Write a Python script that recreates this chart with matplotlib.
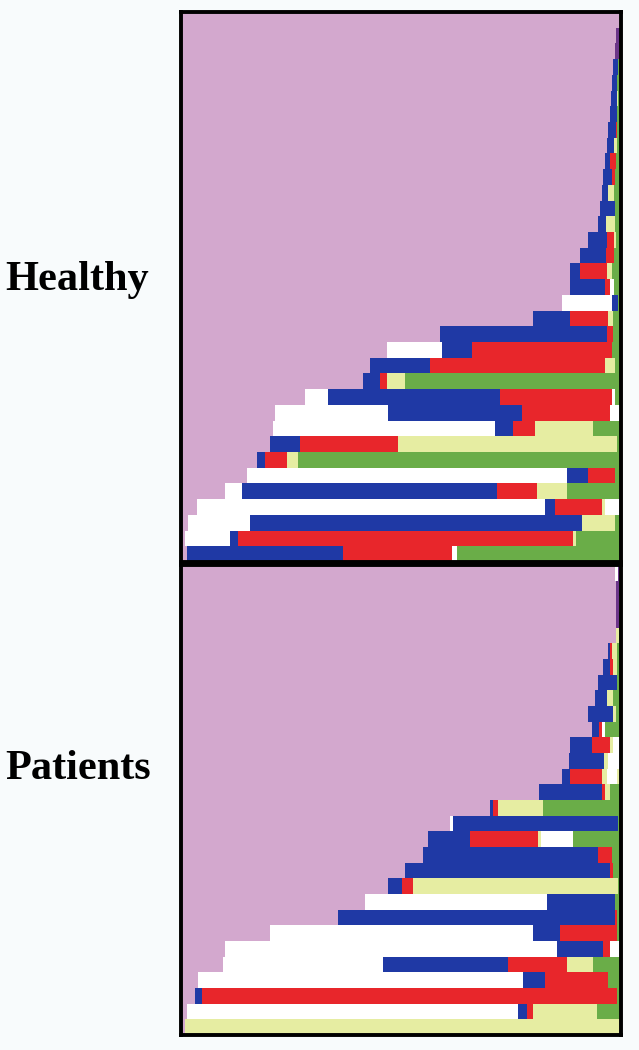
import matplotlib
matplotlib.use("Agg")
import matplotlib.pyplot as plt

# colour codes for the states in each row
colores = {
    "P": "#d3a8ce",  # pink
    "W": "#ffffff",  # white
    "B": "#1f39a5",  # blue
    "R": "#e8262b",  # red
    "Y": "#e6eda2",  # light yellow
    "G": "#6aad48",  # green
    "V": "#6b3588",  # purple
}

# Healthy: state sequence per row and where each state ends (0..440)
healthy_codes = [
    "PW", "PV", "PVG", "PBG", "PBG", "PBYG", "PBG", "PBRG", "PBYG", "PBRG",
    "PBRG", "PBYG", "PBG", "PBYG", "PBRYG", "PBRG", "PBRYG", "PBRWG", "PWBG",
    "PBRYG", "PBRG", "PWBRG", "PBRYG", "PBRYG", "PWBRWG", "PWBRW", "PWBRYG",
    "PBRYG", "PBRYG", "PWBRG", "PWBRYG", "PWBRYW", "PWBYG", "PWBRYG", "PBRWG",
]
healthy_ends = [
    [438, 440], [435, 440], [434, 438, 440], [432, 437, 440], [431, 436, 440],
    [430, 436, 437, 440], [429, 436, 440], [427, 435, 436, 440],
    [426, 433, 436, 440], [424, 429, 435, 440], [422, 431, 434, 440],
    [421, 427, 433, 440], [419, 434, 440], [417, 425, 434, 440],
    [407, 426, 433, 435, 440], [399, 425, 433, 440],
    [389, 399, 426, 431, 440], [389, 424, 429, 433, 440],
    [381, 431, 437, 440], [352, 389, 427, 432, 440], [259, 426, 432, 440],
    [206, 261, 291, 431, 440], [189, 249, 424, 434, 440],
    [182, 199, 206, 224, 440], [124, 147, 319, 431, 434, 440],
    [94, 207, 341, 429, 440], [92, 314, 332, 354, 412, 440],
    [89, 119, 217, 436, 440], [76, 84, 106, 117, 440],
    [66, 386, 407, 434, 440], [44, 61, 316, 356, 386, 440],
    [16, 364, 374, 421, 424, 440], [7, 69, 401, 434, 440],
    [4, 49, 57, 392, 395, 440], [6, 162, 271, 276, 440],
]

# Patients
patient_codes = [
    "PWV", "PVG", "PVY", "PVG", "PYG", "PBRYG", "PBRYG", "PBG", "PBYG", "PBYG",
    "PBRWG", "PBRYW", "PBYW", "PBRYWY", "PBRYG", "PBRYG", "PWBG", "PBRYWG",
    "PBRG", "PBRG", "PBRYG", "PWBG", "PBRG", "PWBRG", "PWBRW", "PWBRYG",
    "PWBRG", "PBRG", "PWBRYG", "PY",
]
patient_ends = [
    [434, 437, 440], [435, 438, 440], [435, 438, 440], [435, 438, 440],
    [435, 438, 440], [427, 429, 431, 436, 440], [422, 429, 432, 436, 440],
    [417, 436, 440], [414, 426, 432, 440], [407, 432, 435, 440],
    [411, 418, 421, 424, 440], [389, 411, 429, 432, 440],
    [388, 423, 427, 440], [381, 389, 421, 426, 436, 440],
    [358, 421, 424, 429, 440], [309, 312, 317, 362, 440],
    [269, 272, 437, 440], [247, 289, 357, 360, 392, 440],
    [242, 417, 431, 440], [224, 429, 432, 440], [207, 221, 232, 437, 440],
    [184, 366, 434, 440], [157, 434, 436, 440], [89, 352, 379, 436, 440],
    [44, 376, 422, 429, 440], [42, 202, 327, 386, 412, 440],
    [17, 342, 364, 427, 440], [14, 21, 436, 440],
    [6, 337, 346, 352, 416, 440], [4, 440],
]


def desenha(ax, codes, ends):
    for i, (cod, fim) in enumerate(zip(codes, ends)):
        inicio = 0
        for c, f in zip(cod, fim):
            ax.barh(i, f - inicio, left=inicio, height=1.0,
                    color=colores[c], linewidth=0, antialiased=False)
            inicio = f
    ax.set_xlim(0, 440)
    ax.set_ylim(len(codes) - 0.5, -0.5)
    ax.set_xticks([])
    ax.set_yticks([])
    for s in ax.spines.values():
        s.set_linewidth(2.8)
        s.set_color("black")


fig = plt.figure(figsize=(6.39, 10.50), dpi=100, facecolor="#f8fbfc")

ax1 = fig.add_axes([181 / 639, (1050 - 562) / 1050, 440 / 639, 550 / 1050])
desenha(ax1, healthy_codes, healthy_ends)

ax2 = fig.add_axes([181 / 639, (1050 - 1035) / 1050, 440 / 639, 470 / 1050])
desenha(ax2, patient_codes, patient_ends)

fonte = dict(family="Liberation Serif", fontweight="bold", fontsize=30.5)
fig.text(5 / 639, (1050 - 290) / 1050, "Healthy", ha="left", va="baseline", **fonte)
fig.text(5 / 639, (1050 - 779) / 1050, "Patients", ha="left", va="baseline", **fonte)

fig.savefig("out.png", dpi=100, facecolor=fig.get_facecolor())
